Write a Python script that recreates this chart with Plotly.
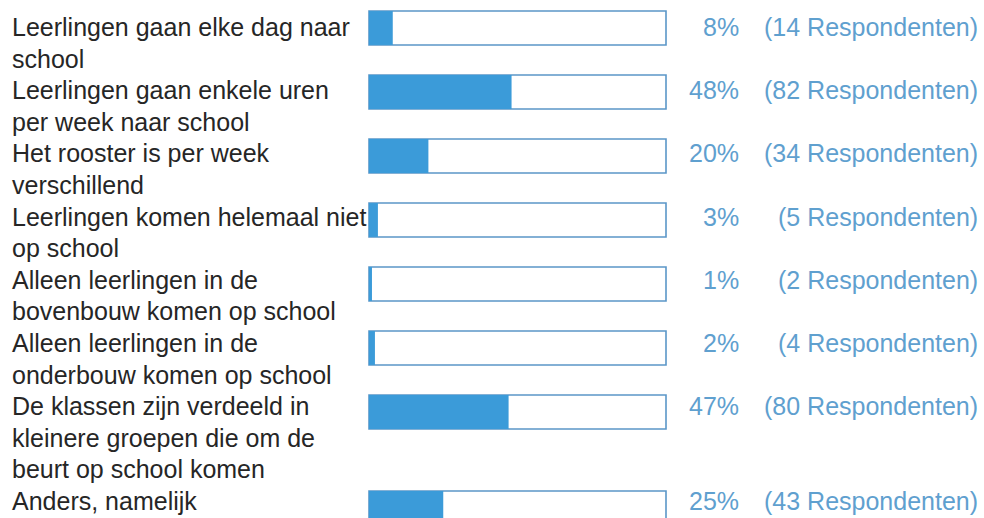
import plotly.graph_objects as go

labels = [
    "Leerlingen gaan elke dag naar<br>school",
    "Leerlingen gaan enkele uren<br>per week naar school",
    "Het rooster is per week<br>verschillend",
    "Leerlingen komen helemaal niet<br>op school",
    "Alleen leerlingen in de<br>bovenbouw komen op school",
    "Alleen leerlingen in de<br>onderbouw komen op school",
    "De klassen zijn verdeeld in<br>kleinere groepen die om de<br>beurt op school komen",
    "Anders, namelijk",
]
percentages = [8, 48, 20, 3, 1, 2, 47, 25]
respondents = [14, 82, 34, 5, 2, 4, 80, 43]

FONT = "Liberation Sans, Arial, Helvetica, sans-serif"
FILL = "#3b9bd9"
OUTLINE = "#5b97c8"
TEXT_DARK = "#262626"
TEXT_BLUE = "#5fa0cf"
LINES_PER_ROW_MIN = 2

W, H = 984, 518
BAR_LINE_H = 32.0    # px per text line for bar positions
TEXT_LINE_H = 31.6   # px per text line for label positions
TOP = 28             # px centre of first row
TEXT_TOP = 27

# vertical positions (in text-line units) from label line counts
row_pos = []
line_pos = []
cur = 0
for lab in labels:
    parts = lab.split("<br>")
    row_pos.append(cur)
    for i, p in enumerate(parts):
        line_pos.append((cur + i, p))
    cur += max(LINES_PER_ROW_MIN, len(parts))


def text_y(k):
    return 1 - (TEXT_TOP + TEXT_LINE_H * k) / H


fig = go.Figure()
fig.add_trace(go.Bar(
    x=[100] * len(labels), y=row_pos, orientation="h", width=1.06,
    marker=dict(color="white", line=dict(color=OUTLINE, width=1.6)),
    hoverinfo="skip", showlegend=False,
))
fig.add_trace(go.Bar(
    x=percentages, y=row_pos, orientation="h", width=1.06,
    marker=dict(color=FILL, line=dict(width=0)),
    showlegend=False,
))

for k, txt in line_pos:
    fig.add_annotation(x=0.010, xref="paper", y=text_y(k), yref="paper", text=txt,
                       showarrow=False, xanchor="left", yanchor="middle",
                       font=dict(family=FONT, size=25, color=TEXT_DARK))

for k, p, r in zip(row_pos, percentages, respondents):
    fig.add_annotation(x=741 / W, xref="paper", y=text_y(k), yref="paper", text=f"{p}%",
                       showarrow=False, xanchor="right", yanchor="middle",
                       font=dict(family=FONT, size=25, color=TEXT_BLUE))
    fig.add_annotation(x=980 / W, xref="paper", y=text_y(k), yref="paper",
                       text=f"({r} Respondenten)",
                       showarrow=False, xanchor="right", yanchor="middle",
                       font=dict(family=FONT, size=25, color=TEXT_BLUE))

px_per_unit = (666 - 369) / 100
fig.update_layout(
    width=W, height=H,
    margin=dict(l=0, r=0, t=0, b=0),
    paper_bgcolor="white", plot_bgcolor="white",
    barmode="overlay",
    xaxis=dict(range=[-369 / px_per_unit, (W - 369) / px_per_unit],
               visible=False, fixedrange=True),
    yaxis=dict(range=[(H - TOP) / BAR_LINE_H, -TOP / BAR_LINE_H],
               visible=False, fixedrange=True),
)
fig.write_html(
    "out.html",
    config={"displayModeBar": False},
    post_script="document.body.style.margin='0';document.body.style.overflow='hidden';",
)
